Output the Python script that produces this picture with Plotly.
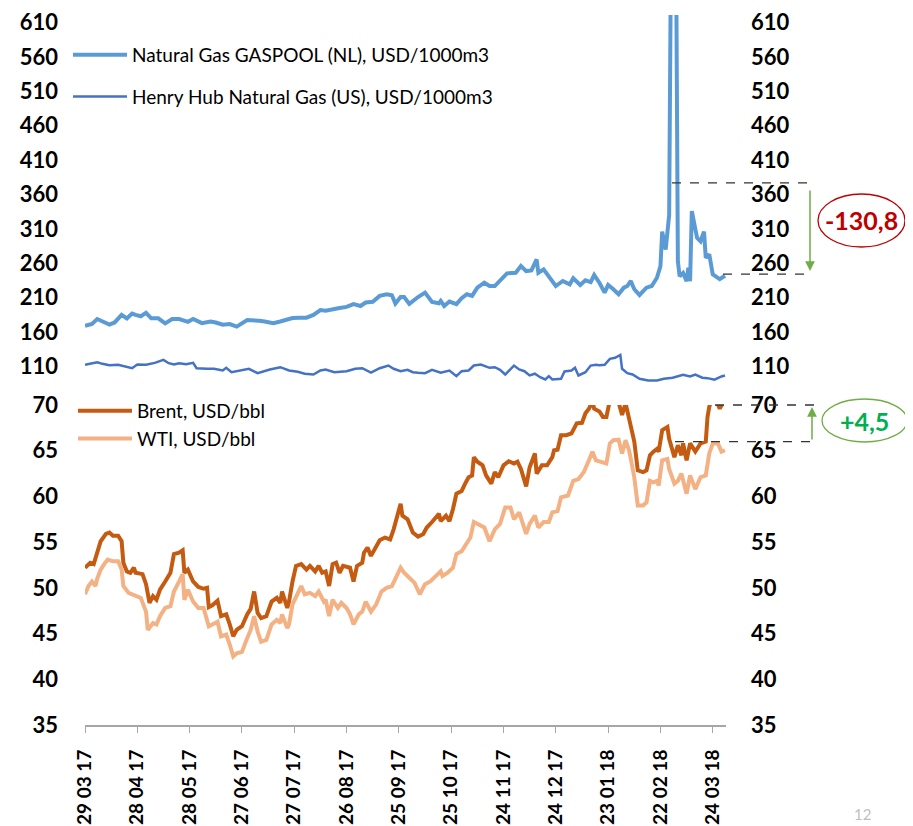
import plotly.graph_objects as go

# ---------------- data (x = day number since 29 03 17) ----------------
tick_days = [0, 30, 60, 90, 120, 150, 180, 210, 240, 270, 300, 330, 360]
tick_labels = ["29 03 17", "28 04 17", "28 05 17", "27 06 17", "27 07 17", "26 08 17",
               "25 09 17", "25 10 17", "24 11 17", "24 12 17", "23 01 18", "22 02 18", "24 03 18"]

gaspool_days = [0, 4, 7, 10, 14, 17, 21, 24, 27, 29,
                32, 35, 38, 42, 46, 50, 54, 59, 62, 67,
                72, 75, 79, 83, 87, 93, 96, 100, 103, 108,
                112, 116, 119, 123, 127, 131, 135, 138, 142, 146,
                150, 154, 158, 161, 165, 169, 173, 176, 178, 181,
                183, 186, 191, 195, 199, 203, 204, 206, 209, 213,
                216, 219, 222, 225, 229, 232, 235, 238, 242, 247,
                250, 253, 256, 259, 260, 263, 267, 270, 274, 278,
                280, 284, 287, 290, 292, 295, 298, 300, 303, 306,
                309, 311, 313, 315, 318, 322, 325, 328, 330, 331,
                333, 334, 335, 336, 337, 338, 339, 340, 341, 343,
                345, 346, 347, 348, 351, 353, 355, 356, 358, 360,
                364, 367]
gaspool_vals = [169, 172, 179, 175.5, 171, 174, 185, 180, 187, 185,
                183, 188, 180, 180, 172.6, 179, 179, 175, 179, 173,
                175.5, 174, 170.7, 171.7, 168, 177.5, 177.5, 176.5, 175.5, 173,
                175.5, 179, 180.4, 181, 181, 185, 192, 191, 193.4, 195,
                196.7, 200.6, 198, 203, 204, 212.6, 215, 213.6, 201.5, 211,
                211, 201, 211, 217.4, 204, 202, 205.4, 198, 204.4, 200.6,
                209.3, 215, 212.6, 224.6, 231.8, 227, 227, 234.3, 245.4, 246.3,
                256, 248.7, 249.7, 265.6, 246.3, 251.2, 236.7, 227, 234.3, 229.5,
                238.2, 228.5, 235.3, 232.8, 243, 231.8, 217.4, 228.5, 222.3, 215,
                224.6, 227, 234.3, 222.3, 214, 224.6, 227, 239, 256, 306,
                280, 306, 330, 700, 900, 900, 700, 263, 241, 246,
                234, 253.5, 234, 336, 297, 292, 306, 268, 273, 244,
                237, 242]

henry_days = [0, 7, 10, 14, 19, 24, 27, 30, 35, 40,
              45, 48, 51, 54, 58, 62, 64, 70, 74, 79,
              81, 84, 90, 94, 99, 106, 112, 117, 122, 126,
              131, 135, 138, 143, 150, 155, 159, 164, 169, 174,
              177, 181, 185, 188, 191, 195, 199, 204, 209, 213,
              216, 220, 223, 227, 232, 235, 238, 241, 246, 249,
              252, 255, 258, 261, 264, 266, 268, 273, 275, 279,
              281, 283, 287, 290, 293, 295, 298, 301, 304, 307,
              308, 311, 314, 318, 323, 328, 332, 337, 343, 347,
              350, 354, 357, 361, 365, 367]
henry_vals = [112.5, 116.2, 113.9, 111.9, 112.5, 109, 107.5, 112.9, 112.5, 115.3,
              119.7, 114.8, 112.9, 114.8, 113.3, 115.3, 107.5, 106.7, 106.7, 104.2,
              108.1, 101.8, 104.2, 106.7, 100.3, 105.7, 109, 104.2, 102.3, 99.5,
              98.4, 104.2, 105.7, 101.8, 103.2, 106.7, 107.5, 101.3, 107.5, 111.4,
              106.7, 103.2, 105.2, 101.8, 100.9, 100.3, 105.2, 100.9, 104.2, 96,
              103.2, 104.2, 111.4, 112.9, 108.1, 109, 105.2, 98.4, 111.4, 105.7,
              103.2, 97, 99.5, 94.5, 91.2, 96, 91.2, 92.2, 102.8, 104.2,
              108.1, 97, 101.8, 111.4, 112.5, 111.9, 112.5, 121.1, 122.6, 126.9,
              106.7, 100.3, 98.4, 92.2, 89.8, 89.8, 92.2, 93.7, 98, 95.5,
              98.4, 93.7, 93.1, 90.8, 95.5, 97]

brent_days = [0, 3, 5, 7, 9, 12, 14, 16, 19, 21,
              22, 24, 26, 28, 29, 33, 35, 37, 39, 41,
              43, 46, 49, 51, 54, 56, 57, 59, 62, 65,
              68, 70, 71, 73, 76, 78, 81, 83, 85, 87,
              90, 93, 95, 97, 99, 101, 104, 107, 110, 112,
              113, 116, 117, 119, 121, 124, 127, 129, 132, 134,
              136, 138, 140, 142, 144, 146, 148, 152, 154, 156,
              159, 160, 162, 164, 167, 169, 172, 175, 177, 181,
              182, 185, 188, 191, 194, 196, 199, 203, 204, 207,
              209, 211, 213, 216, 218, 220, 222, 223, 225, 228,
              230, 233, 235, 237, 240, 243, 246, 248, 250, 253,
              255, 258, 259, 262, 265, 268, 269, 271, 273, 276,
              279, 281, 282, 285, 287, 289, 291, 292, 295, 297,
              299, 301, 303, 306, 308, 310, 312, 313, 315, 317,
              320, 322, 324, 326, 328, 329, 331, 334, 335, 338,
              340, 342, 343, 345, 347, 350, 353, 356, 357, 358,
              359, 362, 364, 366]
brent_vals = [52.2, 52.75, 52.6, 54.0, 55.1, 55.9, 56.05, 55.7, 55.7, 55.1,
              52.75, 51.8, 51.65, 52.2, 51.65, 51.5, 50.4, 48.35, 49.1, 48.7,
              49.8, 50.7, 51.65, 53.7, 53.85, 54.1, 51.65, 52.0, 50.7, 50.1,
              49.9, 50.0, 47.9, 48.1, 48.6, 46.9, 47.1, 46.0, 44.7, 45.4,
              45.8, 47.1, 47.7, 49.6, 47.25, 46.7, 46.9, 48.5, 48.9, 48.35,
              49.6, 47.8, 48.5, 50.7, 52.4, 52.6, 52.0, 52.4, 51.8, 52.4,
              51.65, 51.8, 50.2, 52.6, 52.75, 51.65, 52.4, 52.2, 50.7, 52.4,
              52.75, 53.85, 54.4, 53.5, 54.6, 55.2, 55.5, 55.3, 56.4, 59.2,
              57.9, 57.5, 56.05, 55.6, 55.9, 56.6, 57.2, 58.1, 57.3, 57.9,
              57.3, 58.6, 60.3, 60.6, 61.4, 62.1, 62.3, 64.3, 63.8, 63.4,
              62.3, 61.4, 62.65, 62.1, 63.4, 63.85, 63.6, 63.8, 63.0, 61.1,
              63.2, 64.7, 62.5, 63.4, 63.4, 64.3, 65.05, 65.1, 66.7, 66.7,
              66.9, 67.8, 68.0, 68.05, 69.1, 69.6, 70.4, 69.6, 69.3, 68.7,
              68.7, 70.5, 70.6, 70.3, 68.9, 70.2, 68.5, 68.0, 66.0, 62.85,
              62.65, 62.85, 64.5, 64.9, 65.2, 64.9, 67.25, 67.6, 66.3, 64.3,
              65.6, 64.5, 65.8, 63.95, 65.8, 64.9, 65.8, 66.0, 68.7, 69.8,
              70.4, 70.5, 69.6, 70.3]

wti_days = [0, 2, 4, 6, 7, 9, 11, 13, 16, 19,
            21, 22, 25, 27, 29, 32, 35, 36, 39, 41,
            43, 46, 49, 51, 54, 56, 57, 59, 62, 65,
            68, 71, 73, 76, 78, 81, 83, 85, 87, 90,
            93, 95, 97, 99, 101, 104, 107, 110, 112, 113,
            116, 117, 119, 121, 124, 126, 129, 132, 134, 137,
            138, 140, 142, 145, 147, 150, 152, 154, 157, 159,
            161, 164, 167, 170, 173, 176, 178, 181, 183, 186,
            189, 192, 195, 198, 201, 204, 205, 208, 211, 213,
            216, 219, 221, 223, 225, 229, 232, 235, 238, 241,
            244, 246, 249, 253, 255, 258, 260, 263, 266, 268,
            271, 273, 277, 280, 283, 286, 289, 291, 293, 296,
            299, 301, 303, 306, 308, 310, 312, 313, 315, 317,
            320, 322, 324, 326, 328, 329, 331, 334, 335, 338,
            340, 342, 345, 347, 350, 353, 356, 358, 360, 363,
            365, 367]
wti_vals = [49.3, 50.2, 50.7, 50.2, 51.0, 52.0, 52.6, 53.1, 52.9, 52.9,
            52.0, 50.2, 49.45, 49.3, 49.1, 48.9, 47.4, 45.4, 46.15, 46.0,
            46.9, 47.8, 48.0, 49.6, 50.7, 51.5, 48.7, 49.8, 48.5, 47.8,
            47.8, 45.8, 46.0, 46.3, 44.7, 44.9, 43.8, 42.5, 42.85, 43.0,
            44.5, 45.4, 46.9, 45.2, 44.1, 44.3, 46.0, 46.5, 46.15, 47.1,
            45.6, 46.0, 48.2, 49.1, 50.2, 49.3, 49.45, 49.1, 49.6, 48.5,
            48.7, 46.9, 48.7, 47.8, 48.35, 47.8, 47.1, 46.0, 47.1, 47.4,
            48.5, 47.4, 48.2, 49.6, 50.0, 50.2, 51.1, 52.2, 51.65, 51.1,
            50.55, 49.3, 50.4, 50.7, 51.3, 51.8, 51.3, 51.65, 52.2, 53.7,
            54.0, 54.8, 55.5, 57.2, 57.0, 56.6, 55.1, 56.4, 57.0, 58.8,
            58.8, 57.5, 58.25, 55.9, 57.0, 57.9, 56.6, 57.2, 57.2, 58.25,
            58.4, 59.9, 60.1, 61.7, 61.9, 62.65, 63.95, 64.9, 63.95, 63.8,
            63.6, 65.8, 66.15, 66.2, 64.7, 66.15, 65.05, 64.1, 62.1, 59.0,
            59.0, 59.35, 61.7, 61.55, 61.7, 61.2, 63.95, 64.1, 63.0, 61.4,
            61.7, 62.5, 60.3, 62.3, 60.8, 62.1, 62.3, 64.7, 65.8, 65.8,
            64.9, 65.05]

gas_ticks = [110, 160, 210, 260, 310, 360, 410, 460, 510, 560, 610]
oil_ticks = [35, 40, 45, 50, 55, 60, 65, 70]

gas_levels = [377.0, 244.4]   # dashed reference levels (gas)
oil_levels = [70.0, 66.0]     # dashed reference levels (oil)
gas_change_label = "-130,8"
oil_change_label = "+4,5"
page_number = "12"

for a, b in [(gaspool_days, gaspool_vals), (henry_days, henry_vals),
             (brent_days, brent_vals), (wti_days, wti_vals)]:
    assert len(a) == len(b), (len(a), len(b))

# ---------------- geometry (targets given in window pixels) ----------------
WIN_W, WIN_H = 913, 826
OFF = 8                      # default page body margin
W, H = WIN_W - OFF, WIN_H - OFF
PLOT_L, PLOT_R, PLOT_T, PLOT_B = 85, 726, 15, 725   # window pixels
ML, MR = PLOT_L - OFF, W - (PLOT_R - OFF)
MT, MB = PLOT_T - OFF, H - (PLOT_B - OFF)
PW, PH = W - ML - MR, H - MT - MB


def px_x(px):
    return (px - PLOT_L) / PW


def px_y(py):
    return (PLOT_B - py) / PH


oil_dom = [0, px_y(405)]
gas_dom = [px_y(395), 1]
oil_range = [35, 70]
gas_range = [68.6, 620.9]
x_range = [0, 367.6]


def gas_paper(v):
    return gas_dom[0] + (v - gas_range[0]) / (gas_range[1] - gas_range[0]) * (gas_dom[1] - gas_dom[0])


def oil_paper(v):
    return oil_dom[0] + (v - oil_range[0]) / (oil_range[1] - oil_range[0]) * (oil_dom[1] - oil_dom[0])


FONT = "Lato"
C_GASPOOL = "#5B9BD5"
C_HENRY = "#4472C4"
C_BRENT = "#C55A11"
C_WTI = "#F4B183"

fig = go.Figure()
fig.add_trace(go.Scatter(x=gaspool_days, y=gaspool_vals, yaxis="y2", mode="lines",
                         name="Natural Gas GASPOOL (NL), USD/1000m3",
                         line=dict(color=C_GASPOOL, width=4), legend="legend", legendgroup="g1"))
fig.add_trace(go.Scatter(x=henry_days, y=henry_vals, yaxis="y2", mode="lines",
                         name="Henry Hub Natural Gas (US), USD/1000m3",
                         line=dict(color=C_HENRY, width=2.5), legend="legend", legendgroup="g2"))
fig.add_trace(go.Scatter(x=brent_days, y=brent_vals, yaxis="y", mode="lines",
                         name="Brent, USD/bbl",
                         line=dict(color=C_BRENT, width=4), legend="legend2", legendgroup="o1"))
fig.add_trace(go.Scatter(x=wti_days, y=wti_vals, yaxis="y", mode="lines",
                         name="WTI, USD/bbl",
                         line=dict(color=C_WTI, width=4), legend="legend2", legendgroup="o2"))
# empty traces so that the mirrored right-hand axes are drawn
fig.add_trace(go.Scatter(x=[None], y=[None], yaxis="y3", mode="lines", showlegend=False))
fig.add_trace(go.Scatter(x=[None], y=[None], yaxis="y4", mode="lines", showlegend=False))

tickfont = dict(family=FONT, size=22, color="black", weight="bold")

ax_common = dict(showgrid=False, zeroline=False, showline=False, ticks="", tickfont=tickfont,
                 fixedrange=True, automargin=False, ticklabeloverflow="allow")

fig.update_layout(
    width=W, height=H,
    margin=dict(l=ML, r=MR, t=MT, b=MB, pad=0, autoexpand=False),
    paper_bgcolor="white", plot_bgcolor="white",
    font=dict(family=FONT, color="black"),
    xaxis=dict(range=x_range, tickmode="array", tickvals=tick_days, ticktext=tick_labels,
               tickangle=-90, tickfont=dict(family=FONT, size=19, color="black", weight="bold"),
               showgrid=False, zeroline=False, showline=True, linecolor="#A6A6A6", linewidth=2,
               ticks="outside", ticklen=6, tickwidth=1, tickcolor="#A6A6A6",
               ticklabelstandoff=9, anchor="y", automargin=False, fixedrange=True,
               ticklabeloverflow="allow"),
    yaxis=dict(domain=oil_dom, range=oil_range, tickvals=oil_ticks, anchor="x",
               ticklabelstandoff=26, **ax_common),
    yaxis2=dict(domain=gas_dom, range=gas_range, tickvals=gas_ticks, anchor="x",
                ticklabelstandoff=26, **ax_common),
    yaxis3=dict(overlaying="y", side="right", range=oil_range, tickvals=oil_ticks, anchor="x",
                ticklabelstandoff=24, **ax_common),
    yaxis4=dict(overlaying="y2", side="right", range=gas_range, tickvals=gas_ticks, anchor="x",
                ticklabelstandoff=24, **ax_common),
    showlegend=True,
    legend=dict(x=px_x(68), y=px_y(36), xanchor="left", yanchor="top",
                bgcolor="rgba(0,0,0,0)", font=dict(family=FONT, size=19, color="black"),
                traceorder="grouped", tracegroupgap=14, itemwidth=54),
    legend2=dict(x=px_x(73), y=px_y(392), xanchor="left", yanchor="top",
                 bgcolor="rgba(0,0,0,0)", font=dict(family=FONT, size=19, color="black"),
                 traceorder="grouped", tracegroupgap=0, itemwidth=54),
    hovermode=False,
)

shapes = []
dash = dict(color="#333333", width=1.3, dash="dash")
shapes.append(dict(type="line", xref="paper", yref="paper", x0=px_x(672), x1=px_x(812),
                   y0=gas_paper(gas_levels[0]), y1=gas_paper(gas_levels[0]), line=dash))
shapes.append(dict(type="line", xref="paper", yref="paper", x0=px_x(723), x1=px_x(812),
                   y0=gas_paper(gas_levels[1]), y1=gas_paper(gas_levels[1]), line=dash))
shapes.append(dict(type="line", xref="paper", yref="paper", x0=px_x(715), x1=px_x(821),
                   y0=oil_paper(oil_levels[0]), y1=oil_paper(oil_levels[0]), line=dash))
shapes.append(dict(type="line", xref="paper", yref="paper", x0=px_x(675), x1=px_x(818),
                   y0=oil_paper(oil_levels[1]), y1=oil_paper(oil_levels[1]), line=dash))
shapes.append(dict(type="circle", xref="paper", yref="paper", x0=px_x(818), x1=px_x(905),
                   y0=px_y(247), y1=px_y(194), line=dict(color="#C00000", width=1.3)))
shapes.append(dict(type="circle", xref="paper", yref="paper", x0=px_x(822), x1=px_x(907),
                   y0=px_y(442), y1=px_y(399), line=dict(color="#70AD47", width=1.3)))
fig.update_layout(shapes=shapes)

ann = []
ann.append(dict(xref="paper", yref="paper", x=px_x(810), y=px_y(271), ax=0, ay=-82,
                axref="pixel", ayref="pixel", text="", showarrow=True, arrowhead=2,
                arrowsize=1.3, arrowwidth=1.5, arrowcolor="#70AD47"))
ann.append(dict(xref="paper", yref="paper", x=px_x(812), y=px_y(407), ax=0, ay=34,
                axref="pixel", ayref="pixel", text="", showarrow=True, arrowhead=2,
                arrowsize=1.3, arrowwidth=1.5, arrowcolor="#70AD47"))
ann.append(dict(xref="paper", yref="paper", x=px_x(861.5), y=px_y(220.5), text=gas_change_label,
                showarrow=False, xanchor="center", yanchor="middle",
                font=dict(family=FONT, size=25, color="#C00000", weight="bold")))
ann.append(dict(xref="paper", yref="paper", x=px_x(864.5), y=px_y(421), text=oil_change_label,
                showarrow=False, xanchor="center", yanchor="middle",
                font=dict(family=FONT, size=25, color="#00B050", weight="bold")))
ann.append(dict(xref="paper", yref="paper", x=px_x(862), y=px_y(825), text=page_number,
                showarrow=False, xanchor="center", yanchor="bottom",
                font=dict(family=FONT, size=15, color="#BFBFBF")))
fig.update_layout(annotations=ann)

fig.write_html("out.html")
